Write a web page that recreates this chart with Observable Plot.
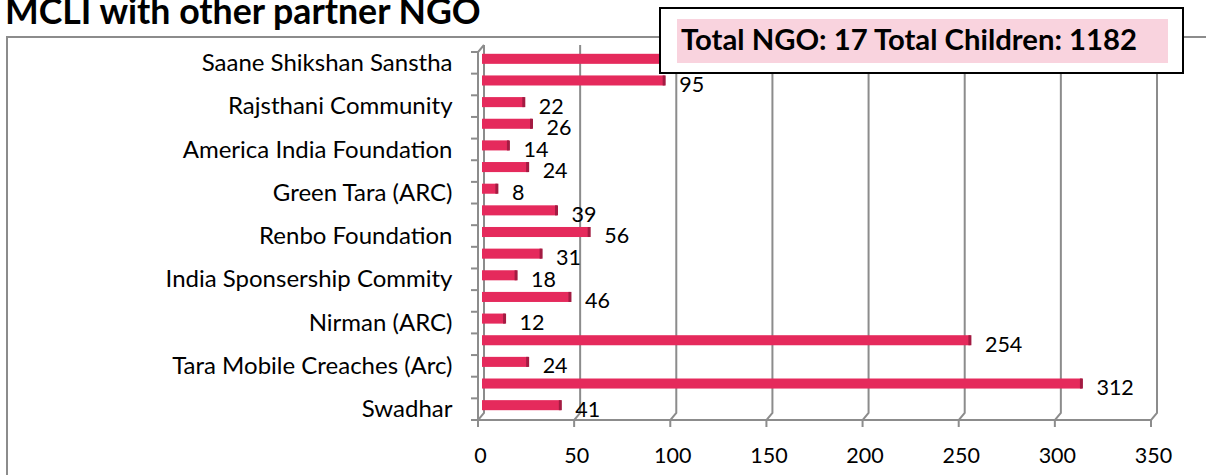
<!DOCTYPE html>
<html>
<head>
<meta charset="utf-8">
<script src="https://cdn.jsdelivr.net/npm/d3@7"></script>
<script src="https://cdn.jsdelivr.net/npm/@observablehq/plot@0.6"></script>
<style>
  html, body { margin: 0; padding: 0; background: #fff; }
  #wrap { position: relative; width: 1206px; height: 475px; overflow: hidden; font-family: Lato, "Open Sans", sans-serif; }
  #title { position: absolute; left: 5px; top: -11px; font-weight: bold; color: #000; white-space: nowrap; }
  #chart { position: absolute; left: 0; top: 0; }
  #frame { position: absolute; left: 6px; top: 36px; width: 1300px; height: 700px; border: 2px solid #8c8c8c; box-sizing: border-box; }
  #box { position: absolute; left: 659px; top: 7px; width: 525px; height: 67px; border: 2px solid #000; background: #fff; box-sizing: border-box; }
  #box .pink { position: absolute; left: 16px; top: 10px; width: 491px; height: 44px; background: #f9d3de; }
  #box .txt { position: absolute; left: 20px; top: 8px; height: 44px; line-height: 44px; font-weight: bold; color: #000; white-space: nowrap; }
</style>
</head>
<body>
<div id="wrap">
  <div id="chart"></div>
  <div id="frame"></div>
  <div id="title">MCLI with other partner NGO</div>
  <div id="box"><div class="pink"></div><div class="txt">Total NGO: 17 Total Children: 1182</div></div>
</div>
<script>
// ---- data (top to bottom, as in the picture) ----
const ngos = [
  "Saane Shikshan Sanstha", "", "Rajsthani Community", "", "America India Foundation", "",
  "Green Tara (ARC)", "", "Renbo Foundation", "", "India Sponsership Commity", "",
  "Nirman (ARC)", "", "Tara Mobile Creaches (Arc)", "", "Swadhar"
];
const children = [160, 95, 22, 26, 14, 24, 8, 39, 56, 31, 18, 46, 12, 254, 24, 312, 41];
const xTicks = [0, 50, 100, 150, 200, 250, 300, 350];
const titleText = "MCLI with other partner NGO";
const totalText = "Total NGO: 17 Total Children: 1182";

const data = children.map((v, i) => ({i, v, name: ngos[i]}));

// font fitting helpers (styling only)
const ctx = document.createElement("canvas").getContext("2d");
function fit(text, weight, target, family = "Lato") {
  ctx.font = `${weight} 100px ${family}`;
  return 100 * target / ctx.measureText(text).width;
}
const titleEl = document.getElementById("title");
titleEl.style.fontSize = fit(titleText, "bold", 478) + "px";
const txtEl = document.querySelector("#box .txt");
txtEl.style.fontSize = fit(totalText, "bold", 457) + "px";

const labelFs = Math.min(24, fit("India Sponsership Commity", "normal", 288));
const fs = 21.5;
const GRID = "#8c8c8c";

function wall(index, scales) {
  const x = scales.x, y = scales.y;
  const g = d3.create("svg:g").attr("fill", "none").attr("stroke", GRID).attr("stroke-width", 2);
  // back gridlines with 3D kink down to the floor
  for (const t of xTicks) {
    const px = x(t);
    g.append("path").attr("d", `M${px + 2},45V413L${px - 4},420V427`);
  }
  // floor
  g.append("path").attr("d", `M${x(0) - 4},420H${x(350) - 4}`);
  // left front axis with top kink
  const y0 = y(0), step = y(1) - y(0);
  g.append("path").attr("d", `M${x(0) + 2},45L${x(0) - 4},${y0 + 4}V420`);
  for (let k = 0; k <= ngos.length; k++) {
    const yy = y0 + k * step + 4;
    g.append("path").attr("d", `M${x(0) - 11},${yy}H${x(0) - 4}`);
  }
  return g.node();
}

const chart = Plot.plot({
  width: 1206,
  height: 475,
  marginLeft: 482,
  marginRight: 51,
  marginTop: 48,
  marginBottom: 55,
  style: {background: "transparent", fontFamily: "Lato, 'Open Sans', sans-serif", color: "#000"},
  x: {domain: [0, 350], axis: null},
  y: {type: "band", domain: d3.range(ngos.length), padding: 0, round: false, insetBottom: 4, axis: null},
  marks: [
    wall,
    Plot.axisX({ticks: xTicks, tickSize: 0, tickPadding: 27, dx: -2, fontSize: fs, label: null, tickFormat: d => String(d)}),
    Plot.axisY({tickSize: 0, tickPadding: 30, dy: 4, fontSize: labelFs, label: null, tickFormat: i => ngos[i]}),
    Plot.barX(data, {x: "v", y: "i", fill: "#e52a5c", insetTop: 5.8, insetBottom: 5.8}),
    Plot.tickX(data, {x: "v", y: "i", stroke: "#a31b42", strokeWidth: 3, insetTop: 5.8, insetBottom: 5.8, dx: -1}),
    Plot.text(data, {x: "v", y: "i", text: d => String(d.v), textAnchor: "start", dx: 14, dy: 4, fontSize: fs, fill: "#000"})
  ]
});
document.getElementById("chart").appendChild(chart);
</script>
</body>
</html>
